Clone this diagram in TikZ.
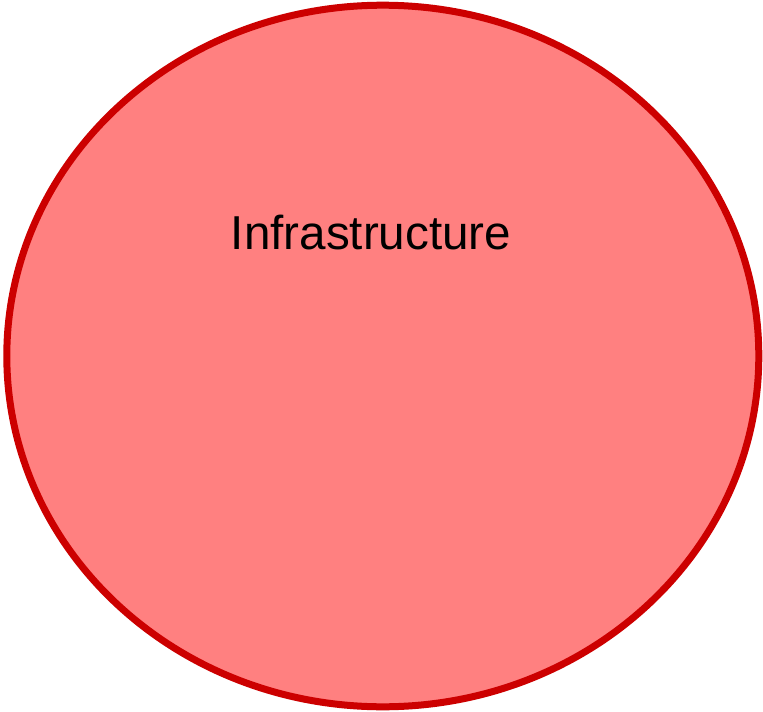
\documentclass[tikz,border=0pt]{standalone}
\usepackage{fontspec}
\setmainfont{Liberation Sans}
\definecolor{fillred}{HTML}{FF8080}
\definecolor{linered}{HTML}{CC0000}
\tikzset{blob/.style={draw=linered, fill=fillred, line width=7pt}}
\begin{document}
\begin{tikzpicture}[x=1pt,y=-1pt]
\useasboundingbox (0,0) rectangle (763,712);
\fill[white] (0,0) rectangle (763,712);
\draw[blob] (382.8,356) ellipse [x radius=376, y radius=350.8];
\node[anchor=base, inner sep=0pt, font=\fontsize{47.6}{56}\selectfont] (label) at (371,249.3) {Infrastructure};
\end{tikzpicture}
\end{document}
